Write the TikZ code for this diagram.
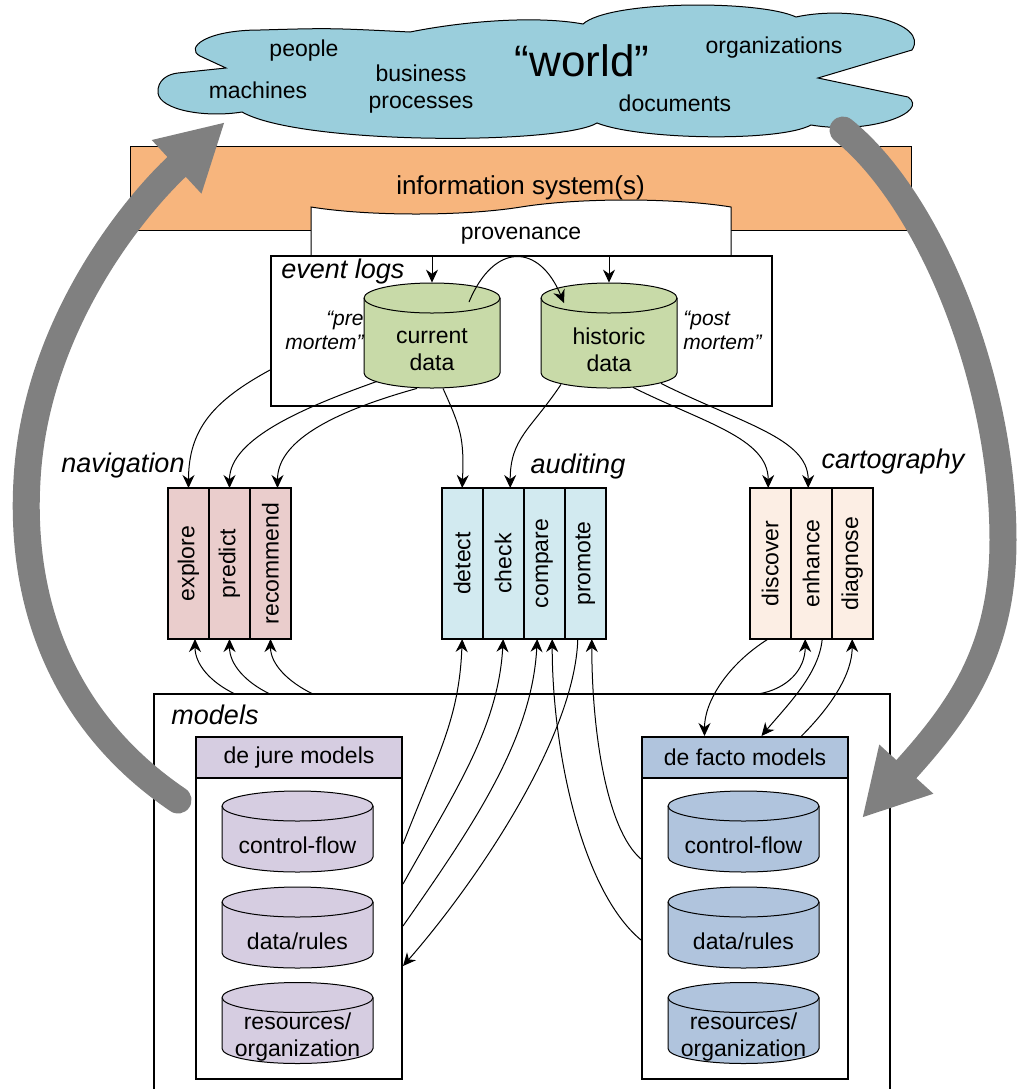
\documentclass[tikz,border=0pt]{standalone}
\usepackage{fontspec}
\setmainfont{Liberation Sans}
\usepackage{graphicx}
\usetikzlibrary{shapes.symbols, arrows.meta, positioning, calc}

\definecolor{worldblue}{RGB}{154,206,220}
\definecolor{isorange}{RGB}{247,181,125}
\definecolor{loggreen}{RGB}{200,218,168}
\definecolor{navpink}{RGB}{234,205,204}
\definecolor{audcyan}{RGB}{210,234,240}
\definecolor{carpeach}{RGB}{252,238,228}
\definecolor{jurelilac}{RGB}{214,205,225}
\definecolor{factoblue}{RGB}{176,196,221}
\definecolor{loopgray}{RGB}{128,128,128}

% drum-shaped store: name, centre, width, height, fill, text
\newcommand{\storedrum}[6]{%
  \begin{scope}[shift={(#2)}]
    \draw [fill=#5, line width=0.5pt] (-#3/2,-#4/2+15) -- (-#3/2,#4/2-15)
      arc [start angle=180, end angle=0, x radius=#3/2, y radius=15]
      -- (#3/2,-#4/2+15)
      arc [start angle=0, end angle=-180, x radius=#3/2, y radius=15] -- cycle;
    \draw [line width=0.5pt] (-#3/2,-#4/2+15)
      arc [start angle=180, end angle=0, x radius=#3/2, y radius=15];
  \end{scope}
  \node (#1) [minimum width=#3*0.5pt, minimum height=#4*0.5pt, label={[storetext]center:#6}] at (#2) {};
}

\begin{document}
\begin{tikzpicture}[x=0.5pt, y=-0.5pt,
    every node/.style={font=\fontsize{11.5}{13.5}\selectfont, inner sep=0pt},
    grplabel/.style={font=\fontsize{13.5}{16}\selectfont\itshape},
    mortem/.style={font=\fontsize{10.5}{12}\selectfont\itshape},
    frame/.style={draw, line width=1pt, fill=white},
    cell/.style={draw, line width=1pt, minimum width=20.5pt, minimum height=75.5pt, outer sep=0pt},
    navcell/.style={cell, fill=navpink},
    audcell/.style={cell, fill=audcyan},
    carcell/.style={cell, fill=carpeach},
    storetext/.style={align=center, yshift=-7pt},
    modhead/.style={draw, line width=1pt, minimum width=103pt, minimum height=20.5pt, anchor=north},
    flow/.style={line width=0.5pt, -{Stealth[length=6.5pt, width=6pt]}},
    loopflow/.style={draw=loopgray, line width=13.5pt, line cap=round, -{Triangle[length=33pt, width=34pt]}}
]
\useasboundingbox (0,0) rectangle (1017,1089);

    % the world
    \draw [fill=worldblue, line width=0.5pt] (226,68) -- (200,56)
        .. controls (185,48) and (205,30) .. (260,30) .. controls (330,28) .. (410,32)
        .. controls (470,20) and (540,16) .. (583,24)
        .. controls (610,0) and (760,0) .. (796,17)
        .. controls (850,5) and (930,22) .. (912,50) -- (818,78) -- (908,97)
        .. controls (930,112) and (870,135) .. (811,125)
        .. controls (780,142) and (640,140) .. (597,123)
        .. controls (560,145) and (300,145) .. (242,112)
        .. controls (205,118) and (160,110) .. (158,93)
        .. controls (157,80) and (168,74) .. (178,73) -- cycle;
    \node (people) at (304,51) {people};
    \node (machines) at (258,90) {machines};
    \node (business) [align=center] at (421,89) {business\\processes};
    \node (world) [font=\fontsize{22}{26}\selectfont] at (582,61) {“world”};
    \node (orgs) at (774,48) {organizations};
    \node (docs) at (675,103) {documents};

    % information systems and provenance
    \node (infosys) [draw, line width=0.5pt, fill=isorange, minimum width=390.5pt, minimum height=42pt,
        font=\fontsize{13}{15}\selectfont] at (520.5,188) {information system(s)};
    \node (prov) [tape, draw, fill=white, line width=0.5pt, tape bend top=in and out, tape bend bottom=none,
        tape bend height=7pt, minimum width=210pt, minimum height=29pt] at (521,236) {provenance};

    % event logs
    \node (evlogs) [frame, minimum width=250.5pt, minimum height=75pt] at (521.5,331) {};
    \node (evlabel) [grplabel, anchor=north west] at ([xshift=5.5pt, yshift=-2pt]evlogs.north west) {event logs};
    \storedrum{curdata}{432,335.5}{136}{105}{loggreen}{current\\data}
    \storedrum{histdata}{609,335.5}{136}{105}{loggreen}{historic\\data}
    \node (pre) [mortem, anchor=east, align=right] at (364,330) {“pre\\mortem”};
    \node (post) [mortem, anchor=west, align=left] at (683,330) {“post\\mortem”};

    \draw [flow] (evlogs.north -| curdata.north) -- (curdata.north);
    \draw [flow] (evlogs.north -| histdata.north) -- (histdata.north);
    \draw [flow] ([shift={(37,-33.5)}]curdata.center) .. controls +(25,-60) and +(-25,-60) .. ([shift={(-45,-32.5)}]histdata.center);

    % navigation
    \node (navlabel) [grplabel] at (123,466) {navigation};
    \node (explore) [navcell] at (188.5,563.5) {\rotatebox{90}{explore}};
    \node (predict) [navcell, right=0pt of explore] {\rotatebox{90}{predict}};
    \node (recommend) [navcell, right=0pt of predict] {\rotatebox{90}{recommend}};

    % auditing
    \node (audlabel) [grplabel] at (578,467) {auditing};
    \node (detect) [audcell] at (462.2,563.5) {\rotatebox{90}{detect}};
    \node (check) [audcell, right=0pt of detect] {\rotatebox{90}{check}};
    \node (compare) [audcell, right=0pt of check] {\rotatebox{90}{compare}};
    \node (promote) [audcell, right=0pt of compare] {\rotatebox{90}{promote}};

    % cartography
    \node (carlabel) [grplabel] at (893,462) {cartography};
    \node (discover) [carcell] at (770.2,563.5) {\rotatebox{90}{discover}};
    \node (enhance) [carcell, right=0pt of discover] {\rotatebox{90}{enhance}};
    \node (diagnose) [carcell, right=0pt of enhance] {\rotatebox{90}{diagnose}};

    % models
    \node (models) [minimum width=367.5pt, minimum height=200pt, anchor=north west] at (154,694) {};
    \draw [line width=1pt] (models.south west) -- (models.north west) -- (models.north east) -- (models.south east);
    \node (modlabel) [grplabel] at (215,715) {models};

    \node (jure) [frame, minimum width=103pt, minimum height=171pt, anchor=north west] at (195,736) {};
    \node (jurehead) [modhead, fill=jurelilac] at (jure.north) {de jure models};
    \storedrum{jurecf}{297.5,831.5}{151}{81}{jurelilac}{control-flow}
    \storedrum{juredr}{297.5,927.5}{151}{81}{jurelilac}{data/rules}
    \storedrum{jurero}{297.5,1023}{151}{81}{jurelilac}{resources/\\organization}

    \node (facto) [frame, minimum width=103pt, minimum height=171pt, anchor=north west] at (641,736) {};
    \node (factohead) [modhead, fill=factoblue] at (facto.north) {de facto models};
    \storedrum{factocf}{743.5,831.5}{151}{81}{factoblue}{control-flow}
    \storedrum{factodr}{743.5,927.5}{151}{81}{factoblue}{data/rules}
    \storedrum{factoro}{743.5,1023}{151}{81}{factoblue}{resources/\\organization}

    % event logs -> activities
    \draw [flow] ([yshift=-19.5pt]evlogs.west) .. controls +(-55,30) and +(0,-60) .. (explore.north);
    \draw [flow] ([shift={(-55,-7)}]curdata.south) .. controls +(-70,25) and +(0,-50) .. (predict.north);
    \draw [flow] ([shift={(-15,0)}]curdata.south) .. controls +(-90,25) and +(0,-45) .. ([xshift=3.5pt]recommend.north);
    \draw [flow] ([shift={(11,0)}]curdata.south) .. controls +(18,40) and +(2,-50) .. (detect.north);
    \draw [flow] ([shift={(-48,-4)}]histdata.south) .. controls +(-30,45) and +(0,-50) .. ([xshift=3.5pt]check.north);
    \draw [flow] ([shift={(24,-1)}]histdata.south) .. controls +(70,35) and +(0,-50) .. ([xshift=-1pt]discover.north);
    \draw [flow] ([shift={(52,-5)}]histdata.south) .. controls +(80,40) and +(0,-50) .. ([xshift=-1.5pt]enhance.north);

    % models -> navigation
    \draw [flow] ([xshift=40.5pt]models.north west) .. controls +(-25,-12) and +(0,25) .. ([xshift=3.25pt]explore.south);
    \draw [flow] ([xshift=58pt]models.north west) .. controls +(-25,-12) and +(0,25) .. (predict.south);
    \draw [flow] ([xshift=79.5pt]models.north west) .. controls +(-25,-12) and +(0,25) .. (recommend.south);

    % models <-> auditing
    \draw [flow] ([yshift=32pt]jure.east) .. controls +(35,-90) and +(-3,80) .. (detect.south);
    \draw [flow] ([yshift=12pt]jure.east) .. controls +(50,-90) and +(-5,90) .. (check.south);
    \draw [flow] ([yshift=-9pt]jure.east) .. controls +(70,-100) and +(-5,100) .. ([xshift=-3.5pt]compare.south);
    \draw [flow] ([xshift=-3.7pt]promote.south) .. controls +(-3,100) and +(70,-80) .. ([yshift=-29pt]jure.east);
    \draw [flow] ([yshift=-16pt]facto.west) .. controls +(-60,-50) and +(0,110) .. ([xshift=4pt]compare.south);
    \draw [flow] ([yshift=24.5pt]facto.west) .. controls +(-35,-30) and +(0,90) .. ([xshift=3.3pt]promote.south);

    % models <-> cartography
    \draw [flow] ([xshift=-1pt]discover.south) .. controls +(-40,25) and +(0,-35) .. ([xshift=-20.25pt]facto.north);
    \draw [flow] ([xshift=302pt]models.north west) .. controls +(30,-5) and +(0,30) .. ([xshift=-3pt]enhance.south);
    \draw [flow] ([xshift=5.5pt]enhance.south) .. controls +(-3,35) and +(25,-30) .. ([xshift=8.25pt]facto.north);
    \draw [flow] ([xshift=28.25pt]facto.north) .. controls +(30,-30) and +(0,35) .. (diagnose.south);

    % the cycle between world and models
    \coordinate (jureout) at (178,800);
    \coordinate (worldin) at (225,122);
    \coordinate (worldout) at (843,130);
    \coordinate (factoin) at (862,818);
    \draw [loopflow] (jureout) .. controls (60,720) and (20,600) .. (27,480)
        .. controls (35,330) and (130,210) .. (worldin);
    \draw [loopflow] (worldout) .. controls (930,200) and (1003,380) .. (1003,540)
        .. controls (1003,650) and (960,710) .. (factoin);

\end{tikzpicture}
\end{document}
